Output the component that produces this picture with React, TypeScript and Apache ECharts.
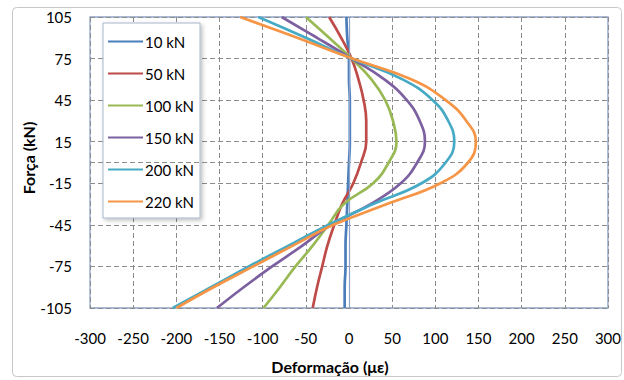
import React, { useEffect, useRef } from "react";
import * as echarts from "echarts";

// Force levels (kN) at which each curve is read
const FORCE = [105, 90, 75, 60, 45, 30, 15, 0, -15, -30, -45, -60, -75, -90, -105];
// Strain values (µε) per load case
const S10 = [-3, -2, 0, 0, 1, 1, 1, 0, -1, -2, -3, -4, -4, -5, -5];
const S50 = [-23, -9, 3, 11, 17, 20, 20, 14, 5, -8, -17, -25, -31, -37, -42];
const S100 = [-50, -23, 3, 26, 42, 51, 55, 46, 28, -6, -24, -42, -62, -80, -99];
const S150 = [-78, -37, 3, 41, 67, 82, 88, 79, 60, 25, -21, -54, -89, -122, -153];
const S200 = [-105, -50, 3, 62, 97, 115, 122, 112, 84, 28, -24, -70, -116, -160, -204];
const S220 = [-126, -60, 4, 72, 112, 136, 147, 138, 106, 44, -18, -65, -111, -157, -200];

const SERIES_NAMES = ["10 kN", "50 kN", "100 kN", "150 kN", "200 kN", "220 kN"];
const SERIES_VALUES = [S10, S50, S100, S150, S200, S220];
const COLORS = ["#4A7EBB", "#BE4B48", "#98B954", "#7D60A0", "#46AAC5", "#F69545"];

const X_MIN = -300;
const X_MAX = 300;
const X_STEP = 50;
const Y_MIN = -105;
const Y_MAX = 105;
const Y_STEP = 30;

const X_TITLE = "Deformação (με)";
const Y_TITLE = "Força (kN)";

const FONT = "Lato, 'Open Sans', sans-serif";

export default function App() {
  const ref = useRef<HTMLDivElement>(null);

  useEffect(() => {
    if (!ref.current) return;
    const chart = echarts.init(ref.current, undefined, { renderer: "svg" });
    const off = -Y_MIN; // shift so the y axis starts at 0 (multiple of the interval)

    const series: any[] = SERIES_NAMES.map((name, i) => ({
      name,
      type: "line",
      data: SERIES_VALUES[i].map((v, k) => [v, FORCE[k] + off]),
      symbol: "none",
      smooth: 0.45,
      lineStyle: { color: COLORS[i], width: 2.7 },
      itemStyle: { color: COLORS[i] },
      z: 3 + i,
    }));

    // axis lines through the origin
    series.push({
      type: "line",
      data: [],
      silent: true,
      markLine: {
        silent: true,
        symbol: "none",
        label: { show: false },
        animation: false,
        data: [
          { yAxis: 0 + off, lineStyle: { color: "#8C8C8C", type: [5, 3], width: 1 } },
          { xAxis: 0, lineStyle: { color: "#8EA4C8", type: "solid", width: 1.2 } },
        ],
      },
      z: 2,
    });

    chart.setOption({
      animation: false,
      backgroundColor: "#fff",
      textStyle: { fontFamily: FONT },
      graphic: [
        {
          type: "rect",
          shape: { x: 12.5, y: 7.5, width: 609, height: 369, r: 4 },
          style: { fill: "none", stroke: "#C8C8C8", lineWidth: 1 },
          silent: true,
          z: -1,
        },
        {
          type: "text",
          x: 330,
          y: 366,
          style: {
            text: X_TITLE,
            fontSize: 16,
            fontWeight: "bold",
            fontFamily: FONT,
            fill: "#000",
            align: "center",
            verticalAlign: "middle",
          },
          silent: true,
        },
        {
          type: "text",
          x: 28,
          y: 158,
          rotation: Math.PI / 2,
          style: {
            text: Y_TITLE,
            fontSize: 16,
            fontWeight: "bold",
            fontFamily: FONT,
            fill: "#000",
            align: "center",
            verticalAlign: "middle",
          },
          silent: true,
        },
      ],
      grid: {
        left: 90,
        right: 16,
        top: 17,
        bottom: 72,
        show: true,
        borderColor: "#8EA4C8",
        borderWidth: 1.3,
        backgroundColor: "transparent",
      },
      legend: {
        orient: "vertical",
        left: 103,
        top: 23,
        itemWidth: 35,
        itemHeight: 14,
        itemGap: 17,
        padding: [11, 6, 9, 4],
        backgroundColor: "#fff",
        borderColor: "#A6B6CE",
        borderWidth: 1,
        shadowBlur: 4,
        shadowOffsetX: 2,
        shadowOffsetY: 2,
        shadowColor: "rgba(0,0,0,0.25)",
        itemStyle: { opacity: 0 },
        data: SERIES_NAMES,
        textStyle: { fontSize: 15, color: "#000", fontFamily: FONT, padding: [0, 0, 0, -3] },
      },
      xAxis: {
        type: "value",
        min: X_MIN,
        max: X_MAX,
        interval: X_STEP,
        axisLine: { show: false },
        axisTick: { show: false },
        axisLabel: { fontSize: 15, color: "#000", margin: 22, fontFamily: FONT },
        splitLine: { show: true, lineStyle: { color: "#8C8C8C", type: [5, 3], width: 1 } },
      },
      yAxis: {
        type: "value",
        min: Y_MIN + off,
        max: Y_MAX + off,
        interval: Y_STEP,
        axisLine: { show: false },
        axisTick: { show: false },
        axisLabel: {
          fontSize: 15,
          color: "#000",
          margin: 18,
          fontFamily: FONT,
          formatter: (v: number) => String(Math.round(v - off)),
        },
        splitLine: { show: true, lineStyle: { color: "#8C8C8C", type: [5, 3], width: 1 } },
      },
      series,
    });

    return () => chart.dispose();
  }, []);

  return (
    <div
      ref={ref}
      style={{ position: "absolute", left: 0, top: 0, width: 624, height: 380, background: "#fff" }}
    />
  );
}
